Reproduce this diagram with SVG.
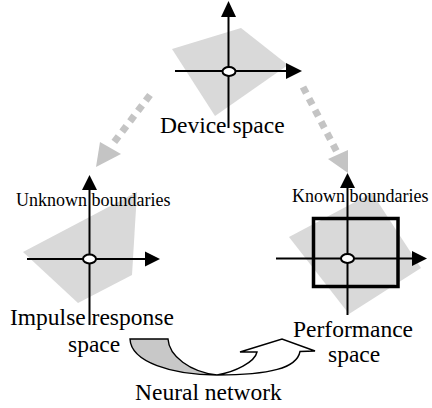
<svg xmlns="http://www.w3.org/2000/svg" width="432" height="408" viewBox="0 0 432 408">
  <style>
    .region { fill: #d9d9d9; stroke: none; }
    .axis { stroke: #000; stroke-width: 2; fill: none; }
    .head { fill: #000; stroke: none; }
    .origin { fill: #fff; stroke: #000; stroke-width: 2; }
    .caption { font-family: 'Liberation Serif', 'Times New Roman', serif; font-size: 23.5px; fill: #000; }
    .small { font-family: 'Liberation Serif', 'Times New Roman', serif; font-size: 18px; fill: #000; }
    .flow { stroke: #c4c4c4; stroke-width: 7; stroke-dasharray: 7 6; fill: none; }
    .flowhead { fill: #c4c4c4; stroke: none; }
    .bend { stroke: #000; stroke-width: 1.4; stroke-linejoin: miter; }
  </style>

  <!-- Device space: rotated region with coordinate axes -->
  <g id="device-space">
    <polygon class="region" points="172,49 241,28 288,65 215,116"/>
    <line class="axis" x1="228.5" y1="128" x2="228.5" y2="16"/>
    <polygon class="head" points="221,17 236,17 228.5,1"/>
    <line class="axis" x1="175" y1="71" x2="287" y2="71"/>
    <polygon class="head" points="286,63 286,79 302,71"/>
    <ellipse class="origin" cx="229" cy="71.5" rx="6.5" ry="4.5"/>
    <text class="caption" x="160" y="133">Device space</text>
  </g>

  <!-- Impulse response space: unknown boundaries -->
  <g id="impulse-response-space">
    <polygon class="region" points="23,252 137,192 132,275 78,303"/>
    <text class="small" x="16" y="206">Unknown boundaries</text>
    <line class="axis" x1="89.5" y1="325" x2="89.5" y2="189"/>
    <polygon class="head" points="82,190 97,190 89.5,175"/>
    <line class="axis" x1="27" y1="259" x2="146" y2="259"/>
    <polygon class="head" points="145,251.5 145,266.5 160,259"/>
    <ellipse class="origin" cx="89.5" cy="259" rx="6.5" ry="4.5"/>
    <text class="caption" x="10" y="325">Impulse response</text>
    <text class="caption" x="68" y="352">space</text>
  </g>

  <!-- Performance space: known (rectangular) boundaries -->
  <g id="performance-space">
    <polygon class="region" points="289,237 372,193 421,268 349,314"/>
    <text class="small" x="292" y="202">Known boundaries</text>
    <rect x="313.5" y="218.5" width="84.5" height="68" fill="none" stroke="#000" stroke-width="3.5"/>
    <line class="axis" x1="347.5" y1="315" x2="347.5" y2="187" stroke-width="1.6"/>
    <polygon class="head" points="340,188 355,188 347.5,173"/>
    <line class="axis" x1="276" y1="258.5" x2="413" y2="258.5" stroke-width="1.6"/>
    <polygon class="head" points="412,251 412,266 427,258.5"/>
    <ellipse class="origin" cx="347.5" cy="258.5" rx="6.5" ry="4.5"/>
    <text class="caption" x="293" y="337">Performance</text>
    <text class="caption" x="328" y="362">space</text>
  </g>

  <!-- Neural network label -->
  <g id="neural-network">
    <text class="caption" x="135" y="400">Neural network</text>
  </g>

  <!-- Connectors -->
  <g id="connectors">
    <!-- device space to impulse response space -->
    <line class="flow" x1="150" y1="95" x2="112" y2="145"/>
    <polygon class="flowhead" points="100,142 121,154 96,167"/>
    <!-- device space to performance space -->
    <line class="flow" x1="303" y1="87" x2="337" y2="152"/>
    <polygon class="flowhead" points="328,159 348,150 348,173"/>
    <!-- neural network mapping: impulse response to performance -->
    <path class="bend" fill="#c8c8c8" d="M130,339 H168 C169,356 190,372 217,375 C172,375 131,362 130,339 Z"/>
    <path class="bend" fill="#fff" d="M217,375 C235,372 255,362 257,352 L240,352 L282,339 L315,351 L300,351.5 C297,368 270,375 217,375 Z"/>
  </g>
</svg>
